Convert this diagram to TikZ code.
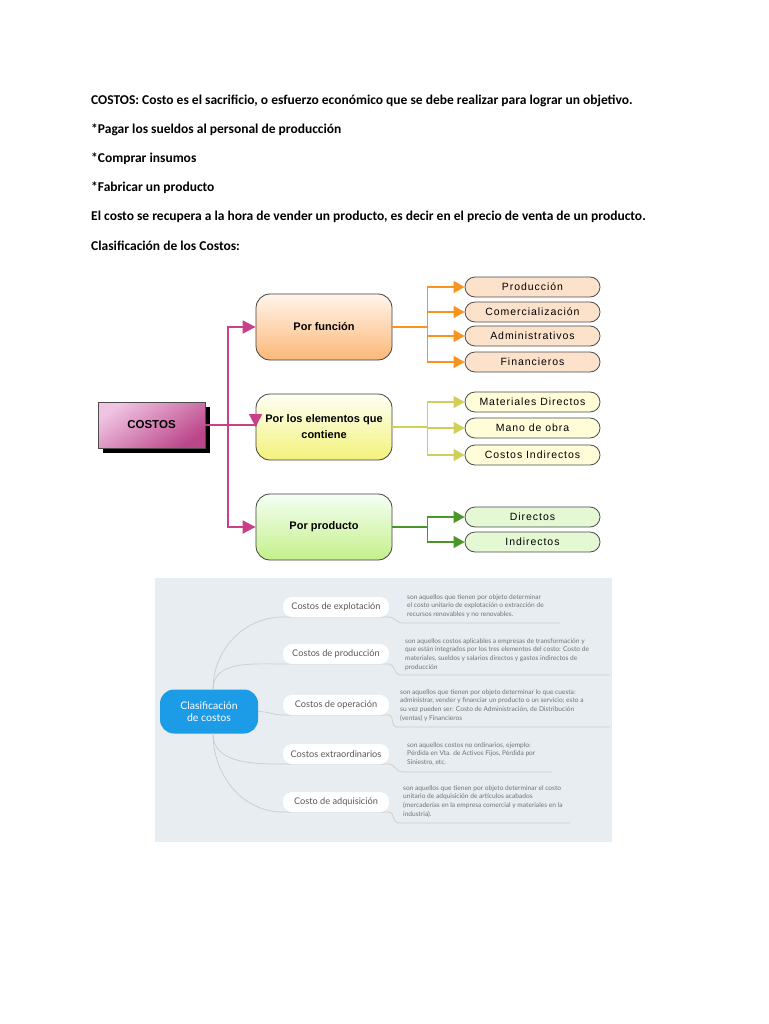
\documentclass[tikz,border=0pt]{standalone}
\usepackage{fontspec}
\setmainfont{Carlito}
\newfontfamily\boxfont{Liberation Sans}
\newfontfamily\leaffont[LetterSpace=9]{Liberation Sans}
\newfontfamily\mapfont{Lato}
\usetikzlibrary{arrows.meta,shadows}
\definecolor{magline}{HTML}{C8408A}
\definecolor{orline}{HTML}{F7931E}
\definecolor{yeline}{HTML}{CFCF5A}
\definecolor{grline}{HTML}{4A9628}
\definecolor{mapbg}{HTML}{E7EDF0}
\definecolor{hubblue}{HTML}{1C9BE6}
\definecolor{twiggray}{HTML}{C6CED3}
\tikzset{
	costbox/.style={draw=black!70, line width=0.7pt, minimum width=107pt, minimum height=46pt,
		top color={rgb,255:red,240;green,196;blue,226}, bottom color={rgb,255:red,188;green,70;blue,138},
		shading angle=35,
		drop shadow={shadow xshift=5pt, shadow yshift=-5pt, fill=black, opacity=1},
		font=\boxfont\bfseries\fontsize{11.5}{13}\selectfont},
	branch/.style={draw=black!75, line width=0.8pt, rounded corners=14pt, minimum width=136pt,
		minimum height=66pt, align=center, font=\boxfont\bfseries\fontsize{11}{16}\selectfont},
	leaf/.style={draw=black!70, line width=0.8pt, rounded corners=10pt, minimum width=135pt,
		minimum height=20pt, inner sep=0pt, font=\leaffont\fontsize{10.5}{12}\selectfont},
	textline/.style={anchor=west, inner sep=0pt, font=\bfseries\fontsize{13.5}{15}\selectfont},
	pill/.style={fill=white, rounded corners=9pt, minimum width=106pt, minimum height=20pt,
		inner sep=0pt, text=black!65, font=\mapfont\fontsize{9.2}{11}\selectfont},
	note/.style={anchor=north west, inner sep=0pt, align=left, text=black!55,
		font=\mapfont\fontsize{6.6}{8.7}\selectfont},
	twig/.style={draw=twiggray, line width=0.7pt}
}
\begin{document}
\begin{tikzpicture}[x=1pt, y=-1pt]
			%%%%% START %%%%%
			\useasboundingbox (0, 0) rectangle (768, 1024);
			\fill[white] (0, 0) rectangle (768, 1024);
			
			\node[textline] (t1) at (91, 101) {COSTOS: Costo es el sacrificio, o esfuerzo económico que se debe realizar para lograr un objetivo.};
			\node[textline] (t2) at (91, 130) {*Pagar los sueldos al personal de producción};
			\node[textline] (t3) at (91, 159) {*Comprar insumos};
			\node[textline] (t4) at (91, 188) {*Fabricar un producto};
			\node[textline] (t5) at (91, 217) {El costo se recupera a la hora de vender un producto, es decir en el precio de venta de un producto.};
			\node[textline] (t6) at (91, 246) {Clasificación de los Costos:};
			
			%%%%% FIRST MAP %%%%%
			\node[costbox] (costos) at (151.5, 425) {COSTOS};
			
			\node[branch, top color=orange!8, bottom color={rgb,255:red,251;green,184;blue,120}] (func) at (324, 327) {Por función};
			\node[branch, top color=yellow!4, bottom color={rgb,255:red,242;green,242;blue,122}] (elem) at (324, 427) {Por los elementos que\\contiene};
			\node[branch, top color=green!4, bottom color={rgb,255:red,196;green,240;blue,138}] (prod) at (324, 527) {Por producto};
			
			\draw[magline, line width=1.8pt, -{Triangle[length=13pt, width=13pt]}] (costos.east) -- ++(23, 0) |- (func.west);
			\draw[magline, line width=1.8pt, -{Triangle[length=13pt, width=13pt]}] (costos.east) -- (costos.east -| elem.west) -- (elem.west);
			\draw[magline, line width=1.8pt, -{Triangle[length=13pt, width=13pt]}] (costos.east) -- ++(23, 0) |- (prod.west);
			
			\node[leaf, fill={rgb,255:red,253;green,226;blue,203}] (fprod) at (532.5, 287) {Producción};
			\node[leaf, fill={rgb,255:red,253;green,226;blue,203}] (fcom) at (532.5, 312) {Comercialización};
			\node[leaf, fill={rgb,255:red,253;green,226;blue,203}] (fadm) at (532.5, 336) {Administrativos};
			\node[leaf, fill={rgb,255:red,253;green,226;blue,203}] (ffin) at (532.5, 362) {Financieros};
			
			\node[leaf, fill={rgb,255:red,255;green,253;blue,216}] (emat) at (532.5, 402) {Materiales Directos};
			\node[leaf, fill={rgb,255:red,255;green,253;blue,216}] (eman) at (532.5, 428) {Mano de obra};
			\node[leaf, fill={rgb,255:red,255;green,253;blue,216}] (ecos) at (532.5, 455) {Costos Indirectos};
			
			\node[leaf, fill={rgb,255:red,228;green,248;blue,212}] (pdir) at (532.5, 517) {Directos};
			\node[leaf, fill={rgb,255:red,228;green,248;blue,212}] (pind) at (532.5, 542) {Indirectos};
			
			\foreach \leafname in {fprod, fcom, fadm, ffin}
				\draw[orline, line width=1.2pt, -{Triangle[length=11pt, width=12pt]}] (func.east) -- ++(35, 0) |- (\leafname.west);
			\foreach \leafname in {emat, eman, ecos}
				\draw[yeline, line width=1.2pt, -{Triangle[length=11pt, width=12pt]}] (elem.east) -- ++(35, 0) |- (\leafname.west);
			\foreach \leafname in {pdir, pind}
				\draw[grline, line width=1.2pt, -{Triangle[length=11pt, width=12pt]}] (prod.east) -- ++(35, 0) |- (\leafname.west);
			
			%%%%% SECOND MAP %%%%%
			\fill[mapbg] (155, 578) rectangle (612, 842);
			
			\node[fill=hubblue, rounded corners=14pt, minimum width=98pt, minimum height=44pt, align=center,
				text=white, font=\mapfont\fontsize{10.5}{12.5}\selectfont] (hub) at (209, 711.5) {Clasificación\\de costos};
			
			\coordinate (u1a) at (402, 623); \coordinate (u1b) at (560, 623);
			\coordinate (u2a) at (400, 675); \coordinate (u2b) at (610, 675);
			\coordinate (u3a) at (396, 727); \coordinate (u3b) at (610, 727);
			\coordinate (u4a) at (402, 772); \coordinate (u4b) at (552, 772);
			\coordinate (u5a) at (398, 823); \coordinate (u5b) at (570, 823);
			
			\draw[twig] ([xshift=4pt]hub.north) to[out=90, in=180] (283, 617) -- (389, 617) to[out=0, in=180] (u1a) -- (u1b);
			\draw[twig] ([xshift=4pt]hub.north) to[out=90, in=180] (283, 664) -- (389, 664) to[out=0, in=180] (u2a) -- (u2b);
			\draw[twig] (hub.east) to[out=0, in=180] (283, 715) -- (389, 715) to[out=0, in=180] (u3a) -- (u3b);
			\draw[twig] ([xshift=4pt]hub.south) to[out=-90, in=180] (283, 764) -- (389, 764) to[out=0, in=180] (u4a) -- (u4b);
			\draw[twig] ([xshift=4pt]hub.south) to[out=-90, in=180] (283, 812) -- (389, 812) to[out=0, in=180] (u5a) -- (u5b);
			
			\node[pill] (expl) at (336, 607) {Costos de explotación};
			\node[pill] (prodc) at (336, 654) {Costos de producción};
			\node[pill] (oper) at (336, 705) {Costos de operación};
			\node[pill] (extr) at (336, 754) {Costos extraordinarios};
			\node[pill] (adqu) at (336, 802) {Costo de adquisición};
			
			\node[note] (n1) at (407, 594) {son aquellos que tienen por objeto determinar\\el costo unitario de explotación o extracción de\\recursos renovables y no renovables.};
			\node[note] (n2) at (405, 638) {son aquellos costos aplicables a empresas de transformación y\\que están integrados por los tres elementos del costo: Costo de\\materiales, sueldos y salarios directos y gastos indirectos de\\producción};
			\node[note] (n3) at (400, 689) {son aquellos que tienen por objeto determinar lo que cuesta:\\administrar, vender y financiar un producto o un servicio; esto a\\su vez pueden ser: Costo de Administración, de Distribución\\(ventas) y Financieros};
			\node[note] (n4) at (407, 742) {son aquellos costos no ordinarios, ejemplo:\\Pérdida en Vta. de Activos Fijos, Pérdida por\\Siniestro, etc.};
			\node[note] (n5) at (403, 785) {son aquellos que tienen por objeto determinar el costo\\unitario de adquisición de artículos acabados\\(mercaderías en la empresa comercial y materiales en la\\industria).};
			
			%%%%% END %%%%%
\end{tikzpicture}
\end{document}
